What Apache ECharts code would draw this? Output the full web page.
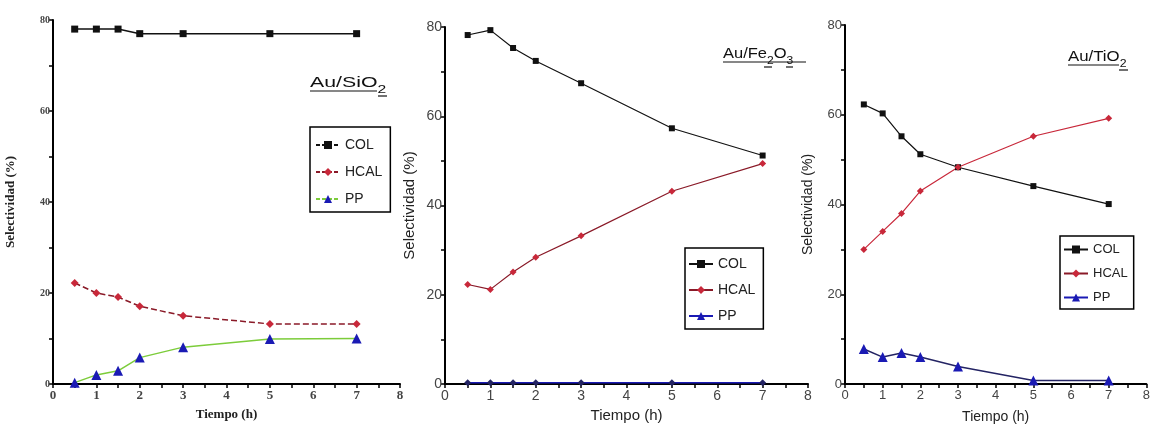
<!DOCTYPE html>
<html>
<head>
<meta charset="utf-8">
<script src="https://cdn.jsdelivr.net/npm/echarts@6/dist/echarts.min.js"></script>
<style>
html,body{margin:0;padding:0;background:#fff;}
#c{width:1153px;height:430px;}
</style>
</head>
<body>
<div id="c"></div>
<script>
// ---- data ----
const tiempo = [0.5, 1, 1.5, 2, 3, 5, 7];
const sio2COL = [78, 78, 78, 77, 77, 77, 77];
const sio2HCAL = [22.2, 20, 19.1, 17.1, 15, 13.2, 13.2];
const sio2PP = [0.3, 2, 2.9, 5.8, 8.1, 9.9, 10];
const fe2o3COL = [78.2, 79.3, 75.3, 72.4, 67.4, 57.3, 51.2];
const fe2o3HCAL = [22.3, 21.2, 25.1, 28.4, 33.2, 43.2, 49.4];
const fe2o3PP = [0.3, 0.3, 0.3, 0.3, 0.3, 0.3, 0.3];
const tio2COL = [62.3, 60.3, 55.2, 51.2, 48.3, 44.1, 40.1];
const tio2HCAL = [30, 34, 38, 43, 48.3, 55.2, 59.2];
const tio2PP = [7.8, 6, 6.9, 6, 3.9, 0.8, 0.8];
const seriesNames = ['COL', 'HCAL', 'PP'];
const xLabel = 'Tiempo (h)';
const yLabel = 'Selectividad (%)';

const pts = v => tiempo.map((t, i) => [t, v[i]]);

const grids = [
  {left: 53, top: 20, width: 347, height: 364},
  {left: 445, top: 27, width: 363, height: 357},
  {left: 845, top: 25, width: 312, height: 359}
];

const sansN = '"Liberation Sans Narrow", "Liberation Sans", Arial, sans-serif';
const serif = '"Liberation Serif", "DejaVu Serif", serif';

function xAx(i, font, size, bold, gap, nsize) {
  return {
    gridIndex: i, type: 'value', min: 0, max: 8, interval: 1,
    name: xLabel, nameLocation: 'middle', nameGap: gap,
    nameTextStyle: {fontFamily: font, fontSize: nsize, fontWeight: bold ? 'bold' : 'normal', color: '#222'},
    axisLine: {lineStyle: {color: '#000', width: 2}},
    axisTick: {length: 4, lineStyle: {color: '#000', width: 1.5}},
    minorTick: {show: true, splitNumber: 2, length: 4, lineStyle: {color: '#000', width: 1.5}},
    splitLine: {show: false},
    axisLabel: {fontFamily: font, fontSize: size, fontWeight: bold ? 'bold' : 'normal', color: '#444', margin: 5}
  };
}
function yAx(i, font, size, bold, gap, nsize) {
  return {
    gridIndex: i, type: 'value', min: 0, max: 80, interval: 20,
    name: yLabel, nameLocation: 'middle', nameGap: gap,
    nameTextStyle: {fontFamily: font, fontSize: nsize, fontWeight: bold ? 'bold' : 'normal', color: '#222'},
    axisLine: {lineStyle: {color: '#000', width: 2}},
    axisTick: {length: 4, lineStyle: {color: '#000', width: 1.5}},
    minorTick: {show: true, splitNumber: 2, length: 4, lineStyle: {color: '#000', width: 1.5}},
    splitLine: {show: false},
    axisLabel: {fontFamily: font, fontSize: size, fontWeight: bold ? 'bold' : 'normal', color: '#444', margin: 3}
  };
}

function ser(i, name, data, lineColor, markColor, symbol, size, lw, dashed) {
  return {
    type: 'line', name: name, xAxisIndex: i, yAxisIndex: i, data: pts(data),
    symbol: symbol, symbolSize: size, showSymbol: true,
    lineStyle: {color: lineColor, width: lw, type: dashed ? [6, 3] : 'solid'},
    itemStyle: {color: markColor},
    emphasis: {disabled: true}, animation: false, z: 3
  };
}

const black = '#111', red = '#c8283a', darkred = '#8a1a28', blue = '#1a1ab4', green = '#7ccc3a', navy = '#232363';

function legendData(ppLine, ltype) {
  return [
    {name: 'COL', itemStyle: {color: black}, lineStyle: {color: black, type: ltype}},
    {name: 'HCAL', itemStyle: {color: red}, lineStyle: {color: darkred, type: ltype}},
    {name: 'PP', itemStyle: {color: blue}, lineStyle: {color: ppLine, type: ltype}}
  ];
}
function legend(left, top, gap, pad, fontSize) {
  return {
    left: left, top: top, orient: 'vertical', itemGap: gap, itemWidth: 24, itemHeight: 10,
    padding: pad, borderColor: '#000', borderWidth: 1.5, selectedMode: false,
    textStyle: {fontFamily: sansN, fontSize: fontSize, color: '#222'}
  };
}

function titleText(x, y, rich, text, scale) {
  return {type: 'text', x: x, y: y, scaleX: scale, style: {text: text, rich: rich, fill: '#111'}, z: 10};
}
const richT = {
  a: {fontFamily: 'Liberation Sans, Arial, sans-serif', fontSize: 15, fill: '#111', lineHeight: 18, verticalAlign: 'top'},
  s: {fontFamily: 'Liberation Sans, Arial, sans-serif', fontSize: 11, fill: '#111', lineHeight: 18, padding: [9, 0, 0, 0], verticalAlign: 'top'}
};
function uline(x1, x2, y) {
  return {type: 'line', shape: {x1: x1, y1: y, x2: x2, y2: y}, style: {stroke: '#111', lineWidth: 1.2}, z: 10};
}

const option = {
  backgroundColor: '#fff',
  animation: false,
  grid: grids,
  xAxis: [
    xAx(0, serif, 13, true, 24, 13),
    xAx(1, sansN, 14, false, 18, 15),
    xAx(2, sansN, 13, false, 26, 14)
  ],
  yAxis: [
    yAx(0, serif, 10, true, 36, 13),
    yAx(1, sansN, 14, false, 28, 15),
    yAx(2, sansN, 13, false, 30, 14)
  ],
  legend: [
    Object.assign(legend(310, 127, 13, [11, 8, 6, 5], 14), {data: legendData(green, [4, 2])}),
    Object.assign(legend(685, 248, 12, [9, 8, 6, 3], 14), {data: legendData(blue, 'solid')}),
    Object.assign(legend(1060, 236, 11, [7, 6, 5, 3], 13), {data: legendData(blue, 'solid')})
  ],
  series: [
    ser(0, 'COL', sio2COL, black, black, 'rect', 7, 1.5, false),
    ser(0, 'HCAL', sio2HCAL, darkred, red, 'diamond', 8, 1.5, true),
    ser(0, 'PP', sio2PP, green, blue, 'triangle', 10, 1.5, false),
    ser(1, 'COL', fe2o3COL, black, black, 'rect', 6, 1.2, false),
    ser(1, 'HCAL', fe2o3HCAL, darkred, red, 'diamond', 7, 1.2, false),
    ser(1, 'PP', fe2o3PP, blue, navy, 'diamond', 7, 1.5, false),
    ser(2, 'COL', tio2COL, black, black, 'rect', 6, 1.2, false),
    ser(2, 'HCAL', tio2HCAL, red, red, 'diamond', 7, 1.2, false),
    ser(2, 'PP', tio2PP, navy, blue, 'triangle', 10, 1.5, false)
  ],
  graphic: [
    titleText(310, 75, richT, '{a|Au/SiO}{s|2}', 1.42),
    uline(310, 377, 91), uline(378, 387, 96),
    titleText(723, 46, richT, '{a|Au/Fe}{s|2}{a|O}{s|3}', 1.1),
    uline(723, 806, 62), uline(764, 772, 67), uline(786, 793, 67),
    titleText(1068, 49, richT, '{a|Au/TiO}{s|2}', 1.12),
    uline(1068, 1119, 65), uline(1119, 1128, 70)
  ]
};

const chart = echarts.init(document.getElementById('c'), null, {renderer: 'canvas'});
chart.setOption(option);
</script>
</body>
</html>
